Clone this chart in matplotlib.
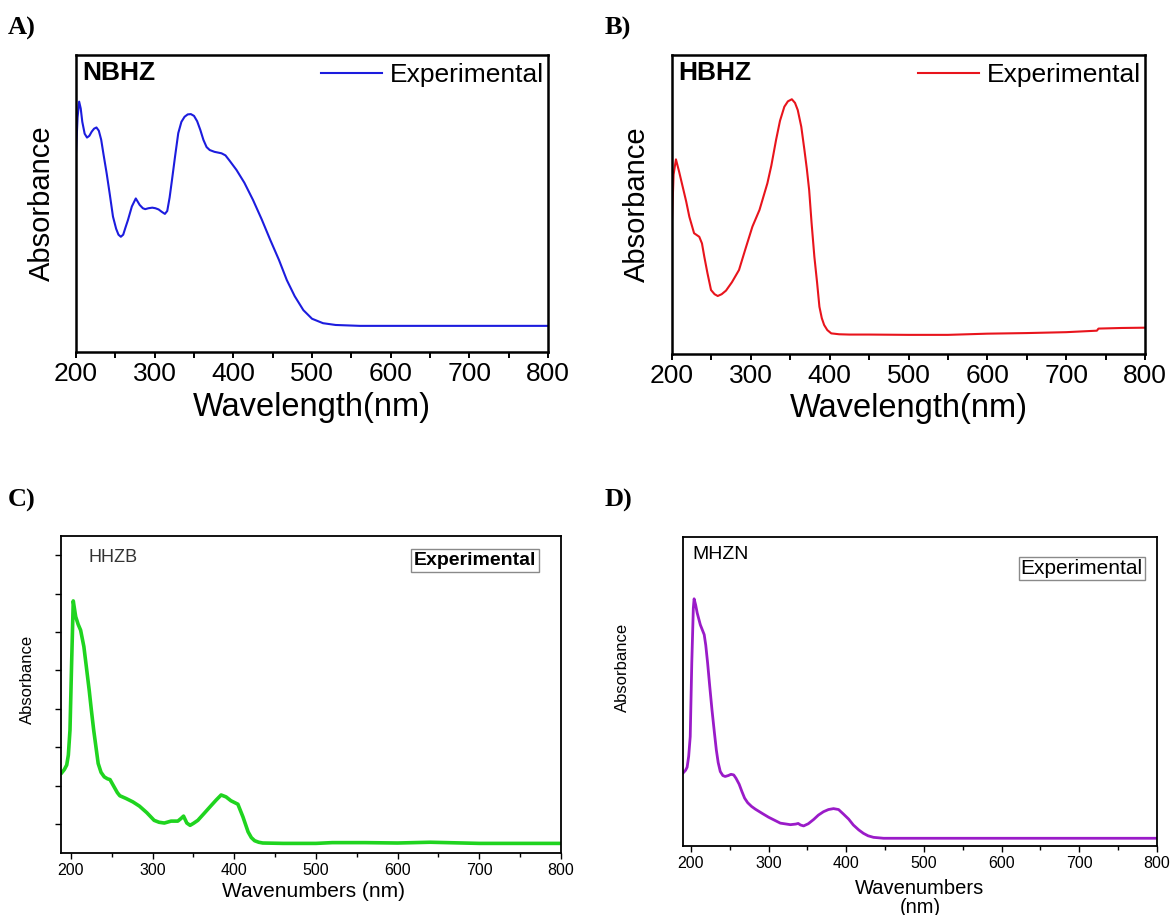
import matplotlib
matplotlib.use("Agg")
import matplotlib.pyplot as plt
from matplotlib.ticker import MultipleLocator


W, H = 1172, 915

# (A) NBHZ
nbhz_wl = [200, 202, 204, 206, 208, 211, 214, 217, 220, 223, 226, 229, 232, 235, 239, 243,
           247, 251, 254, 257, 260, 263, 266, 271, 276, 281, 285, 288, 292, 297, 301, 305,
           309, 313, 316, 319, 322, 326, 330, 334, 338, 342, 346, 350, 354, 358, 362, 366,
           370, 376, 385, 390, 395, 404, 414, 425, 436, 447, 458, 468, 478, 489, 500, 514,
           530, 561, 600, 700, 800]
nbhz_abs = [0.67, 0.79, 0.843, 0.82, 0.775, 0.735, 0.722, 0.728, 0.742, 0.752, 0.756, 0.745,
            0.715, 0.665, 0.601, 0.53, 0.456, 0.415, 0.395, 0.388, 0.395, 0.42, 0.444, 0.49,
            0.517, 0.495, 0.484, 0.481, 0.484, 0.486, 0.484, 0.48, 0.472, 0.465, 0.475, 0.52,
            0.579, 0.66, 0.737, 0.775, 0.792, 0.8, 0.801, 0.795, 0.777, 0.748, 0.714, 0.69,
            0.68, 0.674, 0.669, 0.662, 0.645, 0.613, 0.57, 0.512, 0.447, 0.377, 0.31, 0.242,
            0.188, 0.141, 0.112, 0.097, 0.091, 0.088, 0.088, 0.088, 0.088]

# (B) HBHZ
hbhz_wl = [200, 202, 205, 209, 213.5, 218, 222, 228, 234.6, 238, 241, 245, 249.5, 254, 258,
           263, 268.5, 276, 285, 293, 302, 311, 321, 326, 332, 337, 342.5, 347, 352, 356,
           359.5, 364, 368, 371, 374, 377, 380.6, 384, 387, 390, 393, 397, 402, 412, 425,
           450, 500, 550, 600, 650, 700, 739, 741, 770, 800]
hbhz_abs = [0.448, 0.6, 0.651, 0.61, 0.56, 0.51, 0.459, 0.404, 0.392, 0.37, 0.325, 0.27,
            0.214, 0.2, 0.194, 0.2, 0.212, 0.24, 0.281, 0.35, 0.426, 0.482, 0.571, 0.63,
            0.716, 0.78, 0.827, 0.845, 0.852, 0.84, 0.816, 0.76, 0.682, 0.62, 0.548, 0.44,
            0.325, 0.24, 0.158, 0.12, 0.097, 0.08, 0.069, 0.066, 0.065, 0.065, 0.064, 0.064,
            0.068, 0.07, 0.073, 0.078, 0.085, 0.087, 0.088]

# (C) HHZB
hhzb_wl = [189, 192, 195, 197, 199, 201, 203, 206, 209, 212, 216, 219, 222.5, 225, 228,
           233.5, 237, 241, 245, 248, 253, 257, 260, 267.5, 276, 284, 293, 302, 308, 314.5,
           322.7, 331, 335, 338, 342, 346, 350, 355.5, 364, 372, 378, 384, 390, 396, 404.5,
           410.7, 417, 421, 425, 430, 435, 460, 500, 520, 560, 600, 640, 700, 800]
hhzb_abs = [1.34, 1.42, 1.54, 1.8, 2.45, 4.19, 5.81, 5.4, 5.2, 5.05, 4.62, 4.1, 3.49, 3.0,
            2.45, 1.58, 1.35, 1.23, 1.18, 1.16, 0.97, 0.82, 0.74, 0.67, 0.58, 0.47, 0.3, 0.1,
            0.05, 0.03, 0.08, 0.08, 0.15, 0.21, 0.03, -0.03, 0.02, 0.1, 0.3, 0.49, 0.63, 0.76,
            0.71, 0.61, 0.52, 0.19, -0.2, -0.35, -0.43, -0.47, -0.49, -0.5, -0.5, -0.48,
            -0.48, -0.49, -0.47, -0.5, -0.5]

# (D) MHZN
mhzn_wl = [189.7, 193, 195, 197, 199, 201, 203, 204, 206, 208, 212, 217, 219, 221.4, 224,
           227, 230, 232.6, 235, 237.7, 241, 244, 248, 251.5, 255, 258, 262, 265.6, 269,
           273, 278, 283, 292, 300, 315, 328, 335, 338, 341, 345, 351, 358, 364, 370.6,
           377, 383.5, 390, 396, 403, 409, 416, 422, 428, 435, 448, 500, 600, 700, 800]
mhzn_abs = [0.236, 0.245, 0.255, 0.29, 0.354, 0.592, 0.77, 0.8, 0.78, 0.754, 0.716, 0.684,
            0.65, 0.592, 0.52, 0.441, 0.37, 0.311, 0.27, 0.241, 0.228, 0.225, 0.228, 0.232,
            0.23, 0.219, 0.2, 0.176, 0.155, 0.14, 0.128, 0.119, 0.105, 0.093, 0.074, 0.069,
            0.071, 0.073, 0.068, 0.065, 0.072, 0.086, 0.1, 0.111, 0.118, 0.121, 0.118, 0.104,
            0.087, 0.068, 0.052, 0.041, 0.033, 0.028, 0.025, 0.025, 0.025, 0.025, 0.025]


def box(left, top, right, bottom):
    return [left / W, 1 - bottom / H, (right - left) / W, (bottom - top) / H]


def fig_xy(x, y):
    return x / W, 1 - y / H


plt.rcParams["font.family"] = ["Liberation Sans", "DejaVu Sans"]

fig = plt.figure(figsize=(W / 100, H / 100), dpi=100)

# ---- top row: A and B ----
top_panels = [
    (box(76, 55, 548, 352), nbhz_wl, nbhz_abs, "#1c1cde", "NBHZ", (-0.072, 0.5), -0.186),
    (box(672, 55, 1145, 354), hbhz_wl, hbhz_abs, "#e8141c", "HBHZ", (-0.074, 0.5), -0.182),
]
for rect, wl, ab, color, name, ylab_pos, xlab_y in top_panels:
    ax = fig.add_axes(rect)
    ax.plot(wl, ab, color=color, linewidth=1.5, label="Experimental",
            solid_joinstyle="round")
    ax.set_xlim(200, 800)
    ax.set_ylim(0, 1)
    ax.set_yticks([])
    ax.xaxis.set_major_locator(MultipleLocator(100))
    ax.xaxis.set_minor_locator(MultipleLocator(50))
    ax.tick_params(axis="x", which="both", direction="out", length=4, width=1.4,
                   labelsize=19, pad=3)
    for sp in ax.spines.values():
        sp.set_linewidth(1.8)
    ax.set_xlabel("Wavelength(nm)", fontsize=23.5, va="center")
    ax.xaxis.set_label_coords(0.5, xlab_y)
    ax.set_ylabel("Absorbance", fontsize=21, va="center")
    ax.yaxis.set_label_coords(*ylab_pos)
    ax.text(0.013, 0.941, name, transform=ax.transAxes, fontsize=19,
            fontweight="bold", va="center", ha="left")
    ax.legend(loc="upper right", bbox_to_anchor=(1.0, 0.985), frameon=False,
              fontsize=19, handlelength=2.3, handletextpad=0.3, borderpad=0.05,
              borderaxespad=0.1)

# ---- bottom row: C ----
axc = fig.add_axes(box(61, 536, 561, 853))
axc.plot(hhzb_wl, hhzb_abs, color="#1fd41f", linewidth=2.6, solid_joinstyle="round")
axc.set_xlim(188, 800)
axc.set_ylim(-0.75, 7.5)
axc.set_yticks(range(0, 8))
axc.set_yticklabels([])
axc.xaxis.set_major_locator(MultipleLocator(100))
axc.xaxis.set_minor_locator(MultipleLocator(50))
axc.tick_params(axis="x", which="major", direction="out", length=4, width=1.0,
                labelsize=11.5, pad=3)
axc.tick_params(axis="x", which="minor", direction="out", length=3, width=1.0)
axc.tick_params(axis="y", which="major", direction="out", length=4, width=1.0)
for sp in axc.spines.values():
    sp.set_linewidth(1.3)
axc.set_xlabel("Wavenumbers (nm)", fontsize=15, va="center")
axc.xaxis.set_label_coords(0.504, -0.12)
axc.set_ylabel("Absorbance", fontsize=12, va="center")
axc.yaxis.set_label_coords(-0.068, 0.546)
axc.text(0.054, 0.932, "HHZB", transform=axc.transAxes, fontsize=13,
         color="#333333", va="center", ha="left")
axc.text(0.951, 0.923, "Experimental", transform=axc.transAxes, fontsize=14,
         fontweight="semibold", va="center", ha="right",
         bbox=dict(boxstyle="square,pad=0.14", fc="white", ec="#8a8a8a", lw=1.0))

# ---- bottom row: D ----
axd = fig.add_axes(box(683, 537, 1157, 846))
axd.plot(mhzn_wl, mhzn_abs, color="#9a1bc8", linewidth=2.0, solid_joinstyle="round")
axd.set_xlim(189.7, 800)
axd.set_ylim(0, 1)
axd.set_yticks([])
axd.xaxis.set_major_locator(MultipleLocator(100))
axd.xaxis.set_minor_locator(MultipleLocator(50))
axd.tick_params(axis="x", which="major", direction="out", length=4, width=1.0,
                labelsize=11.5, pad=3)
axd.tick_params(axis="x", which="minor", direction="out", length=3, width=1.0)
for sp in axd.spines.values():
    sp.set_linewidth(1.3)
axd.set_xlabel("Wavenumbers\n(nm)", fontsize=14.5, va="center", linespacing=1.0)
axd.xaxis.set_label_coords(0.5, -0.167)
axd.set_ylabel("Absorbance", fontsize=12, va="center")
axd.yaxis.set_label_coords(-0.127, 0.579)
axd.text(0.02, 0.942, "MHZN", transform=axd.transAxes, fontsize=14,
         va="center", ha="left")
axd.text(0.97, 0.897, "Experimental", transform=axd.transAxes, fontsize=15,
         va="center", ha="right",
         bbox=dict(boxstyle="square,pad=0.1", fc="white", ec="#8a8a8a", lw=1.0))

# panel letters
for letter, (x, y) in [("A)", (8, 28)), ("B)", (605, 28)), ("C)", (8, 500)), ("D)", (605, 500))]:
    fig.text(*fig_xy(x, y), letter, fontsize=19, fontweight="bold",
             family=["Liberation Serif", "DejaVu Serif"], va="center", ha="left")

fig.savefig("out.png", dpi=100)
